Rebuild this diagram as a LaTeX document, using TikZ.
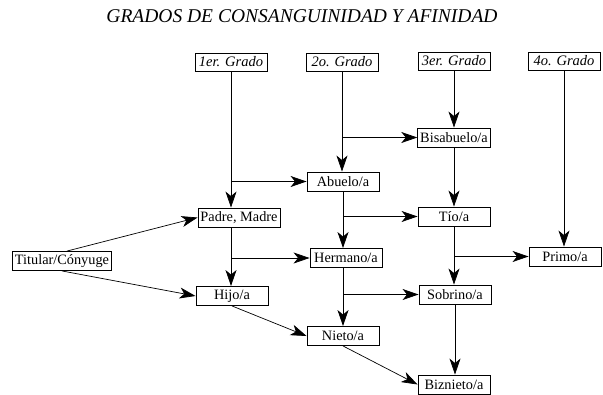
\documentclass[tikz,border=0pt]{standalone}
\usepackage{fontspec}
\setmainfont{Liberation Serif}
\usetikzlibrary{arrows.meta}

\begin{document}
\begin{tikzpicture}[x=1pt, y=-1pt,
  box/.style={draw, line width=0.9pt, minimum width=72pt, minimum height=19pt,
    inner sep=2.5pt, font=\fontsize{14.3}{16}\selectfont},
  gbox/.style={box, minimum height=18pt, font=\fontsize{14.5}{16}\selectfont\itshape},
  arr/.style={-{Stealth[length=16pt, width=11pt, inset=4.5pt]}, line width=0.7pt}]
\useasboundingbox (0,0) rectangle (603,394);

\node (title) at (302,16) {\fontsize{19.5}{22}\selectfont\itshape GRADOS DE CONSANGUINIDAD Y AFINIDAD};

% grados
\node [gbox] (g1) at (231,62) {1er. Grado};
\node [gbox] (g2) at (342,62) {2o. Grado};
\node [gbox] (g3) at (454,61) {3er. Grado};
\node [gbox] (g4) at (564,61) {4o. Grado};

% parientes
\node [box] (bis) at (454,137.5) {Bisabuelo/a};
\node [box] (abu) at (343,181.5) {Abuelo/a};
\node [box] (pad) at (239,217.5) {Padre, Madre};
\node [box] (tio) at (454,216.5) {Tío/a};
\node [box] (tit) at (62,261) {Titular/Cónyuge};
\node [box] (her) at (346,258) {Hermano/a};
\node [box] (pri) at (565,256.5) {Primo/a};
\node [box] (hij) at (232,296) {Hijo/a};
\node [box] (sob) at (455,294.5) {Sobrino/a};
\node [box] (nie) at (343,336) {Nieto/a};
\node [box] (biz) at (454,384.5) {Biznieto/a};

% lineas verticales
\draw [arr] (g1.south) -- (g1 |- pad.north);
\draw [arr] (g1 |- pad.south) -- (g1 |- hij.north);
\draw [arr] (g2.south) -- (g2 |- abu.north);
\draw [arr] (abu.south) -- (abu |- her.north);
\draw [arr] (abu |- her.south) -- (abu |- nie.north);
\draw [arr] (g3.south) -- (bis.north);
\draw [arr] (bis.south) -- (tio.north);
\draw [arr] (tio.south) -- (tio |- sob.north);
\draw [arr] (sob.south) -- (sob |- biz.north);
\draw [arr] (g4.south) -- (g4 |- pri.north);

% ramas
\coordinate (r1) at (g1 |- abu);
\coordinate (r2) at (g2 |- bis);
\coordinate (r3) at (abu |- tio);
\coordinate (r4) at (g1 |- her);
\coordinate (r5) at (tio |- pri);
\coordinate (r6) at (abu |- sob);
\draw [arr] (r1) -- (abu);
\draw [arr] (r2) -- (bis);
\draw [arr] (r3) -- (tio);
\draw [arr] (r4) -- (her);
\draw [arr] (r5) -- (pri);
\draw [arr] (r6) -- (sob);

% diagonales
\draw [arr] ([xshift=5pt]tit.north) -- (pad.west);
\draw [arr] (tit.south) -- (hij.west);
\draw [arr] (hij.south) -- (nie.west);
\draw [arr] (nie.south) -- (biz.west);
\end{tikzpicture}
\end{document}
